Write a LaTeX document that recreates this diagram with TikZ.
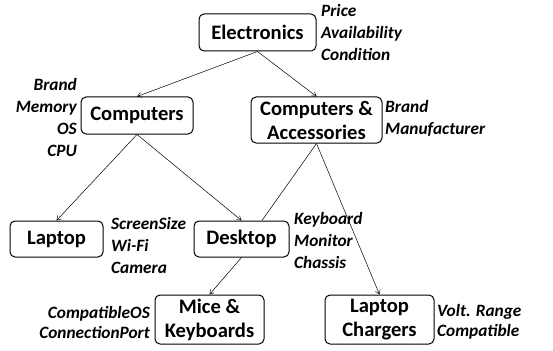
\documentclass[tikz,border=0pt]{standalone}
\usepackage{fontspec}
\setmainfont{Carlito}
\usetikzlibrary{arrows.meta,calc}
\begin{document}
\begin{tikzpicture}[x=1pt,y=-1pt,
  cat/.style={draw=black, line width=1pt, rounded corners=5pt, align=center,
    inner sep=0pt, font=\bfseries\fontsize{20.6}{24}\selectfont},
  attr/.style={inner sep=0pt, font=\bfseries\itshape\fontsize{17.3}{22}\selectfont},
  link/.style={line width=0.5pt, -{Straight Barb[length=4pt,width=5pt]}},
  plain/.style={line width=0.5pt}]
\useasboundingbox (0,0) rectangle (553,350);
\node[cat, minimum width=117pt, minimum height=37pt] (el) at (257.5,32.5) {Electronics};
\node[cat, minimum width=112pt, minimum height=37pt] (co) at (137,115.5) {Computers};
\node[cat, minimum width=131pt, minimum height=46pt] (ca) at (316.5,120) {Computers \&\\Accessories};
\node[cat, minimum width=93pt, minimum height=36pt] (la) at (56.5,239) {Laptop};
\node[cat, minimum width=95pt, minimum height=36pt] (de) at (241.5,239) {Desktop};
\node[cat, minimum width=109pt, minimum height=49pt] (mk) at (209.5,319.5) {Mice \&\\Keyboards};
\node[cat, minimum width=109pt, minimum height=49pt] (lc) at (379.5,319.5) {Laptop\\Chargers};

\node[attr, anchor=west, align=left] (ela) at (321,32.5) {Price\\Availability\\Condition};
\node[attr, anchor=east, align=right] (coa) at (77,117) {Brand\\Memory\\OS\\CPU};
\node[attr, anchor=west, align=left] (caa) at (385,118.5) {Brand\\Manufacturer};
\node[attr, anchor=west, align=left] (laa) at (111,245) {ScreenSize\\Wi-Fi\\Camera};
\node[attr, anchor=west, align=left] (dea) at (294,240) {Keyboard\\Monitor\\Chassis};
\node[attr, anchor=east, align=right, font=\bfseries\itshape\fontsize{17.3}{20}\selectfont] (mka) at (150,322) {CompatibleOS\\ConnectionPort};
\node[attr, anchor=west, align=left, font=\bfseries\itshape\fontsize{17.3}{20}\selectfont] (lca) at (437,322) {Volt. Range\\Compatible};

\coordinate (dk) at ([xshift=20.5pt]de.north);
\draw[link] (el.south) -- (co.north);
\draw[link] (el.south) -- (ca.north);
\draw[link] (co.south) -- (la.north);
\draw[link] (co.south) -- (de.north);
\draw[plain] (ca.south) -- (dk);
\draw[link] (ca.south) -- (lc.north);
\draw[link] (de.south) -- (mk.north);
\end{tikzpicture}
\end{document}
